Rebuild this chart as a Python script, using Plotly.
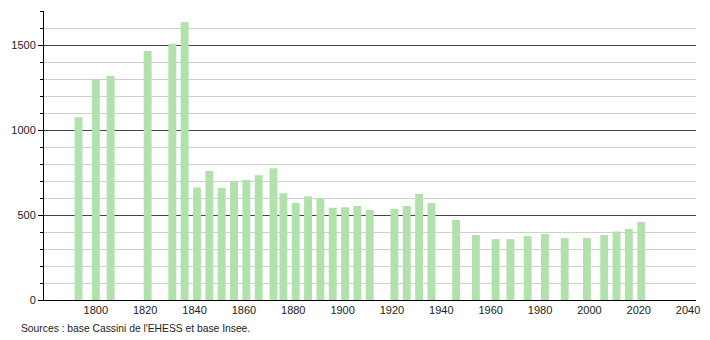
import plotly.graph_objects as go

years = [1793, 1800, 1806, 1821, 1831, 1836, 1841, 1846, 1851, 1856, 1861, 1866,
         1872, 1876, 1881, 1886, 1891, 1896, 1901, 1906, 1911, 1921, 1926, 1931,
         1936, 1946, 1954, 1962, 1968, 1975, 1982, 1990, 1999, 2006, 2011, 2016, 2021]
population = [1075, 1297, 1318, 1465, 1508, 1635, 662, 759, 660, 699, 706, 734,
              775, 628, 571, 611, 599, 542, 546, 553, 529, 535, 553, 624,
              570, 471, 382, 358, 358, 377, 388, 365, 365, 382, 403, 418, 459]
x_ticks = [1800, 1820, 1840, 1860, 1880, 1900, 1920, 1940, 1960, 1980, 2000, 2020, 2040]
source_text = "Sources : base Cassini de l'EHESS et base Insee."

fig = go.Figure()
fig.add_trace(go.Bar(
    x=years, y=population, width=3.2,
    marker=dict(color="rgb(178,226,172)", line=dict(width=0)),
    hoverinfo="x+y",
))

font = dict(family="Liberation Sans, Arial, sans-serif", size=11, color="#222")

fig.update_layout(
    width=710, height=340,
    margin=dict(l=44, r=10, t=11, b=40),
    paper_bgcolor="white", plot_bgcolor="white",
    showlegend=False,
    font=font,
    xaxis=dict(
        range=[1779, 2043.2],
        tickmode="array", tickvals=x_ticks, ticktext=[str(v) for v in x_ticks],
        showgrid=False, zeroline=False,
        showline=True, linecolor="black", linewidth=1,
        ticks="", tickfont=font,
    ),
    yaxis=dict(
        range=[0, 1700],
        tickmode="linear", tick0=0, dtick=500,
        showgrid=True, gridcolor="#444", gridwidth=1,
        zeroline=False,
        showline=True, linecolor="black", linewidth=1,
        ticks="outside", ticklen=5, tickcolor="black", tickwidth=1,
        tickfont=font,
        minor=dict(dtick=100, tick0=0, showgrid=True, gridcolor="#cfcfcf",
                   gridwidth=1, ticks="outside", ticklen=3, tickcolor="black"),
    ),
    annotations=[dict(
        text=source_text, xref="paper", yref="paper",
        x=-0.039, y=-0.073, xanchor="left", yanchor="top",
        showarrow=False, font=dict(family="Liberation Sans, Arial, sans-serif",
                                   size=10.3, color="#222"),
    )],
)

fig.write_html("out.html")
